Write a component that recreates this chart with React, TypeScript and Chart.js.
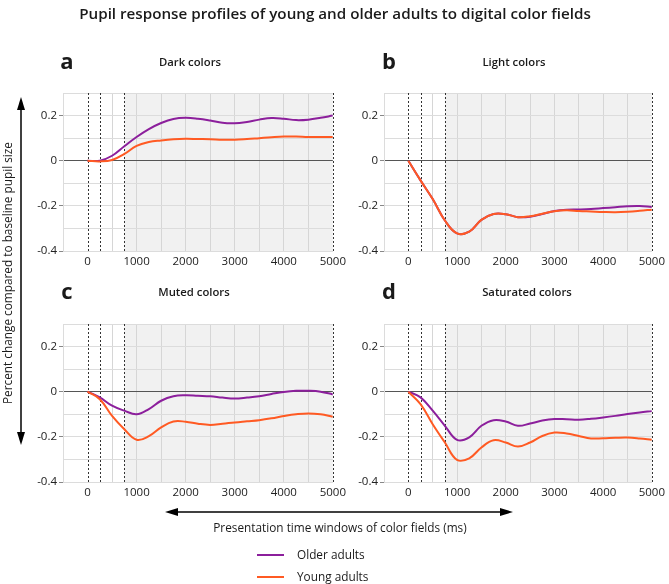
import React, { useEffect, useRef } from "react";
import { Chart, registerables, Plugin } from "chart.js";

Chart.register(...registerables);

const times = [0, 250, 500, 750, 1000, 1250, 1500, 1750, 2000, 2250, 2500, 2750, 3000, 3250, 3500, 3750, 4000, 4250, 4500, 4750, 5000];

const darkOlder = [0, 0.0, 0.022, 0.064, 0.105, 0.14, 0.167, 0.185, 0.19, 0.186, 0.178, 0.168, 0.166, 0.172, 0.182, 0.189, 0.186, 0.18, 0.182, 0.19, 0.2];
const darkYoung = [0, -0.003, 0.003, 0.03, 0.066, 0.083, 0.09, 0.095, 0.097, 0.096, 0.095, 0.093, 0.093, 0.096, 0.1, 0.104, 0.107, 0.107, 0.105, 0.105, 0.105];
const lightOlder = [0, -0.087, -0.17, -0.265, -0.322, -0.314, -0.262, -0.236, -0.237, -0.25, -0.248, -0.236, -0.223, -0.217, -0.216, -0.214, -0.21, -0.206, -0.202, -0.201, -0.205];
const lightYoung = [0, -0.087, -0.17, -0.265, -0.322, -0.314, -0.262, -0.236, -0.237, -0.25, -0.246, -0.235, -0.224, -0.22, -0.223, -0.225, -0.227, -0.228, -0.226, -0.222, -0.217];
const mutedOlder = [0, -0.025, -0.062, -0.084, -0.1, -0.077, -0.04, -0.02, -0.016, -0.018, -0.02, -0.026, -0.03, -0.026, -0.02, -0.01, -0.001, 0.004, 0.004, 0.0, -0.012];
const mutedYoung = [0, -0.033, -0.107, -0.166, -0.213, -0.197, -0.158, -0.132, -0.133, -0.142, -0.147, -0.142, -0.136, -0.131, -0.126, -0.118, -0.108, -0.1, -0.096, -0.1, -0.111];
const satOlder = [0, -0.025, -0.084, -0.151, -0.213, -0.202, -0.151, -0.126, -0.132, -0.151, -0.141, -0.128, -0.121, -0.122, -0.124, -0.12, -0.114, -0.107, -0.099, -0.092, -0.086];
const satYoung = [0, -0.055, -0.144, -0.225, -0.302, -0.295, -0.247, -0.215, -0.225, -0.243, -0.225, -0.196, -0.181, -0.185, -0.196, -0.207, -0.206, -0.204, -0.203, -0.207, -0.213];

const markerTimes = [0, 250, 750, 5000];
const shadeFrom = 750;

const FONT = "'Open Sans', sans-serif";
const PURPLE = "#8c1f9c";
const ORANGE = "#ff5a23";

const windowsPlugin: Plugin = {
  id: "windows",
  beforeDraw(chart) {
    const { ctx, chartArea } = chart;
    const x = chart.scales.x;
    const x0 = x.getPixelForValue(shadeFrom);
    const x1 = x.getPixelForValue(5000);
    ctx.save();
    ctx.fillStyle = "#f1f1f1";
    ctx.fillRect(x0, chartArea.top, x1 - x0, chartArea.bottom - chartArea.top);
    ctx.restore();
  },
  beforeDatasetsDraw(chart) {
    const { ctx, chartArea } = chart;
    const x = chart.scales.x;
    ctx.save();
    ctx.strokeStyle = "#333";
    ctx.lineWidth = 1;
    ctx.setLineDash([2, 2]);
    markerTimes.forEach((t) => {
      const px = Math.round(x.getPixelForValue(t)) + 0.5;
      ctx.beginPath();
      ctx.moveTo(px, chartArea.top);
      ctx.lineTo(px, chartArea.bottom);
      ctx.stroke();
    });
    ctx.restore();
  },
};

function ChartPanel({ older, young, left, top, width, padRight }: { older: number[]; young: number[]; left: number; top: number; width: number; padRight: number }) {
  const ref = useRef<HTMLCanvasElement | null>(null);
  useEffect(() => {
    const ctx = ref.current?.getContext("2d");
    if (!ctx) return;
    const chart = new Chart(ctx, {
      type: "line",
      data: {
        datasets: [
          {
            label: "Young adults",
            data: times.map((t, i) => ({ x: t, y: young[i] })),
            borderColor: ORANGE,
            borderWidth: 2,
            pointRadius: 0,
            tension: 0.4,
          },
          {
            label: "Older adults",
            data: times.map((t, i) => ({ x: t, y: older[i] })),
            borderColor: PURPLE,
            borderWidth: 2,
            pointRadius: 0,
            tension: 0.4,
          },
        ],
      },
      options: {
        animation: false,
        responsive: false,
        maintainAspectRatio: false,
        layout: { padding: { top: 10, right: padRight, left: 0, bottom: 0 } },
        plugins: { legend: { display: false }, tooltip: { enabled: false } },
        scales: {
          x: {
            type: "linear",
            min: -500,
            max: 5000,
            afterFit: (s: any) => {
              s.height = 27;
            },
            border: { color: "#dcdcdc" },
            grid: {
              drawTicks: false,
              color: (c: any) => {
                const v = c.tick?.value;
                if (v === 0 || v === 5000) return "rgba(0,0,0,0)";
                return "#d6d6d6";
              },
            },
            ticks: {
              stepSize: 500,
              padding: 4,
              color: "#222",
              font: { family: FONT, size: 11.5 },
              maxRotation: 0,
              autoSkip: false,
              callback: (v: any) => (v >= 0 && v % 1000 === 0 ? String(v) : ""),
            },
          },
          y: {
            min: -0.4,
            max: 0.3,
            afterFit: (s: any) => {
              s.width = 48;
            },
            border: { color: "#dcdcdc" },
            grid: {
              tickLength: 4,
              color: (c: any) => {
                const v = Math.round((c.tick?.value ?? 1) * 10);
                return v === 0 ? "#555" : "#dcdcdc";
              },
              tickColor: (c: any) => {
                const v = Math.round((c.tick?.value ?? 1) * 10);
                return v % 2 === 0 && v < 3 ? "#888" : "rgba(0,0,0,0)";
              },
            },
            ticks: {
              stepSize: 0.1,
              padding: 2,
              color: "#222",
              font: { family: FONT, size: 11.5 },
              autoSkip: false,
              callback: (v: any) => {
                const n = Math.round(v * 10);
                if (n % 2 !== 0 || n > 2) return "";
                return n === 0 ? "0" : (n / 10).toFixed(1);
              },
            },
          },
        },
      },
      plugins: [windowsPlugin],
    } as any);
    return () => chart.destroy();
  }, [older, young]);
  return (
    <canvas
      ref={ref}
      width={width}
      height={195}
      style={{ position: "absolute", left, top, width, height: 195 }}
    />
  );
}

export default function App() {
  const txt = { fontFamily: FONT, fill: "#1a1a1a" } as React.CSSProperties;
  const sub = { ...txt, fontSize: 11.3, fontWeight: 600 } as React.CSSProperties;
  const letter = { ...txt, fontSize: 22, fontWeight: 700 } as React.CSSProperties;
  const label = { ...txt, fontSize: 11.8 } as React.CSSProperties;
  return (
    <div style={{ position: "absolute", left: 0, top: 0, width: 669, height: 584, background: "#fff", overflow: "hidden" }}>
      <ChartPanel older={darkOlder} young={darkYoung} left={15} top={83} width={335} padRight={17} />
      <ChartPanel older={lightOlder} young={lightYoung} left={336} top={83} width={333} padRight={16} />
      <ChartPanel older={mutedOlder} young={mutedYoung} left={15} top={314} width={335} padRight={17} />
      <ChartPanel older={satOlder} young={satYoung} left={336} top={314} width={333} padRight={16} />
      <svg width={669} height={584} style={{ position: "absolute", left: 0, top: 0, pointerEvents: "none" }}>
        <text x={335} y={19} textAnchor="middle" style={{ ...txt, fontSize: 15.2, fontWeight: 600 }}>
          Pupil response profiles of young and older adults to digital color fields
        </text>
        <text x={67} y={69} textAnchor="middle" style={letter}>a</text>
        <text x={190} y={66} textAnchor="middle" style={sub}>Dark colors</text>
        <text x={389} y={69} textAnchor="middle" style={letter}>b</text>
        <text x={514} y={66} textAnchor="middle" style={sub}>Light colors</text>
        <text x={67} y={299} textAnchor="middle" style={letter}>c</text>
        <text x={194} y={296} textAnchor="middle" style={sub}>Muted colors</text>
        <text x={389} y={299} textAnchor="middle" style={letter}>d</text>
        <text x={527} y={296} textAnchor="middle" style={sub}>Saturated colors</text>

        <line x1={21} y1={108} x2={21} y2={434} stroke="#000" strokeWidth={1.5} />
        <polygon points="21,97 17,110 25,110" fill="#000" />
        <polygon points="21,445 17,432 25,432" fill="#000" />
        <text transform="translate(12,273) rotate(-90)" textAnchor="middle" style={label}>
          Percent change compared to baseline pupil size
        </text>

        <line x1={176} y1={512} x2={502} y2={512} stroke="#000" strokeWidth={1.5} />
        <polygon points="165,512 178,508 178,516" fill="#000" />
        <polygon points="513,512 500,508 500,516" fill="#000" />
        <text x={340} y={532} textAnchor="middle" style={label}>
          Presentation time windows of color fields (ms)
        </text>

        <line x1={257} y1={555} x2={284} y2={555} stroke={PURPLE} strokeWidth={2} />
        <text x={297} y={559} style={label}>Older adults</text>
        <line x1={257} y1={577} x2={284} y2={577} stroke={ORANGE} strokeWidth={2} />
        <text x={297} y={581} style={label}>Young adults</text>
      </svg>
    </div>
  );
}
